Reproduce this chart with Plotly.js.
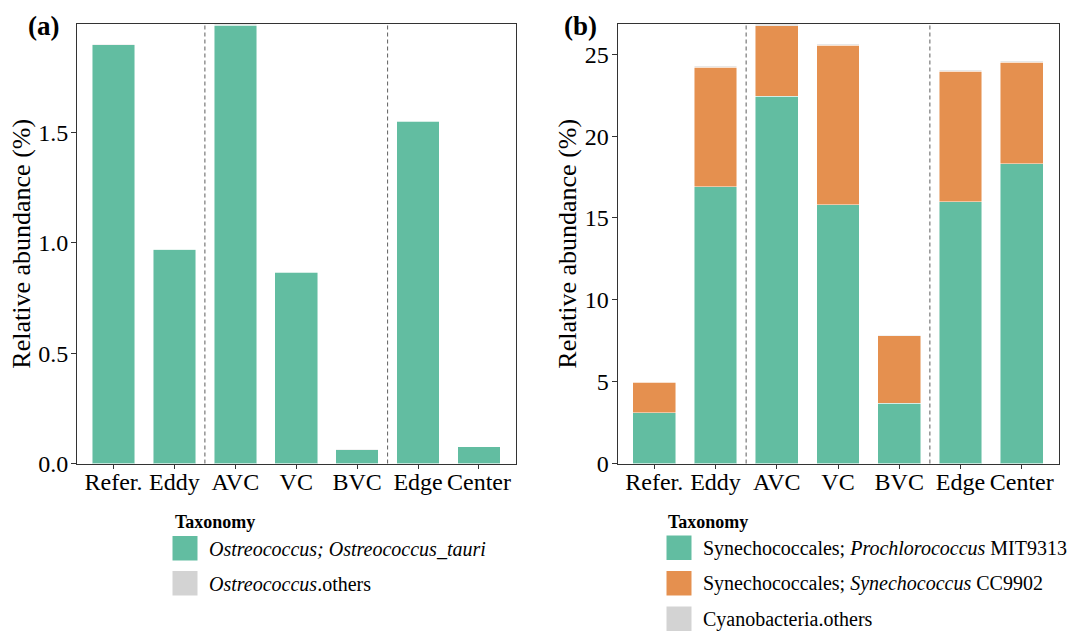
<!DOCTYPE html>
<html>
<head>
<meta charset="utf-8">
<script src="https://cdn.plot.ly/plotly-3.0.1.min.js"></script>
<style>html,body{margin:0;padding:0;background:#fff;}#chart{width:1077px;height:631px;}</style>
</head>
<body>
<div id="chart"></div>
<script>
// ---- data ----
const categories = ["Refer.", "Eddy", "AVC", "VC", "BVC", "Edge", "Center"];

// Panel (a): Ostreococcus
const ostreoTauri  = [1.899, 0.970, 1.986, 0.867, 0.063, 1.551, 0.075];
const ostreoOthers = [0.001, 0.001, 0.006, 0.001, 0.001, 0.002, 0.001];

// Panel (b): Cyanobacteria
const prochloroMIT9313 = [3.10, 16.90, 22.45, 15.80, 3.67, 16.00, 18.30];
const synechoCC9902    = [1.87, 7.30, 4.30, 9.75, 4.15, 7.95, 6.20];
const cyanoOthers      = [0.03, 0.08, 0.10, 0.07, 0.03, 0.08, 0.08];

const legendA = ["<i>Ostreococcus; Ostreococcus_tauri</i>", "<i>Ostreococcus</i>.others"];
const legendB = ["Synechococcales; <i>Prochlorococcus</i> MIT9313", "Synechococcales; <i>Synechococcus</i> CC9902", "Cyanobacteria.others"];
const yTicksA = [0, 0.5, 1.0, 1.5];
const yTicksB = [0, 5, 10, 15, 20, 25];
const groupDividers = [1.5, 4.5];

// ---- style ----
const GREEN = "#62BDA1", ORANGE = "#E5904F", GREY = "#D3D3D3";
const FONT = "Liberation Serif, Times New Roman, serif";
const W = 1077, H = 631;
const px = x => x / W, py = y => 1 - y / H;

function bar(y, color, name, xa, ya) {
  return {type: "bar", x: categories, y: y, name: name, xaxis: xa, yaxis: ya,
    marker: {color: color, line: {color: "rgba(255,255,255,0.8)", width: 0.6}},
    width: 0.7, showlegend: false, hoverinfo: "x+y+name"};
}

const data = [
  bar(ostreoTauri, GREEN, "Ostreococcus; Ostreococcus_tauri", "x", "y"),
  bar(ostreoOthers, GREY, "Ostreococcus.others", "x", "y"),
  bar(prochloroMIT9313, GREEN, "Synechococcales; Prochlorococcus MIT9313", "x2", "y2"),
  bar(synechoCC9902, ORANGE, "Synechococcales; Synechococcus CC9902", "x2", "y2"),
  bar(cyanoOthers, GREY, "Cyanobacteria.others", "x2", "y2")
];

const totA = ostreoTauri.map((v, i) => v + ostreoOthers[i]);
const totB = prochloroMIT9313.map((v, i) => v + synechoCC9902[i] + cyanoOthers[i]);

function xax(domain) {
  return {domain: domain, type: "category", categoryarray: categories, range: [-0.6, 6.6],
    showline: true, mirror: true, linecolor: "#333", linewidth: 1,
    ticks: "outside", ticklen: 4, tickcolor: "#333", tickwidth: 1,
    ticklabelstandoff: -7,
    showgrid: false, zeroline: false,
    tickfont: {family: FONT, size: 24, color: "#000"}};
}
function yax(range, tickvals, fmt, anchor) {
  return {domain: [py(463.5), py(24)], range: range, tickvals: tickvals, tickformat: fmt, anchor: anchor,
    showline: true, mirror: true, linecolor: "#333", linewidth: 1,
    ticks: "outside", ticklen: 5, tickcolor: "#333", tickwidth: 1,
    ticklabelstandoff: -2,
    showgrid: false, zeroline: false,
    tickfont: {family: FONT, size: 24, color: "#000"},
    title: {text: "Relative abundance (%)", font: {family: FONT, size: 26, color: "#000"}, standoff: 0}};
}

const shapes = [];
groupDividers.forEach(d => {
  ["x", "x2"].forEach((xr, k) => {
    shapes.push({type: "line", xref: xr, yref: (k === 0 ? "y" : "y2") + " domain", x0: d, x1: d, y0: 0, y1: 1,
      line: {color: "#333", width: 0.8, dash: "4px,3px"}});
  });
});

const annotations = [
  {text: "<b>(a)</b>", xref: "paper", yref: "paper", x: px(26), y: py(26), xanchor: "left", yanchor: "middle",
   showarrow: false, font: {family: FONT, size: 27, color: "#000"}},
  {text: "<b>(b)</b>", xref: "paper", yref: "paper", x: px(562), y: py(26), xanchor: "left", yanchor: "middle",
   showarrow: false, font: {family: FONT, size: 27, color: "#000"}}
];

function legendBlock(labels, colors, x0, yTitle, yKeys, xText) {
  annotations.push({text: "<b>Taxonomy</b>", xref: "paper", yref: "paper", x: px(x0), y: py(yTitle),
    xanchor: "left", yanchor: "middle", showarrow: false, font: {family: FONT, size: 18, color: "#000"}});
  labels.forEach((lab, i) => {
    const yt = yKeys[i];
    shapes.push({type: "rect", xref: "paper", yref: "paper", x0: px(x0), x1: px(x0 + 25),
      y0: py(yt + 24.5), y1: py(yt), fillcolor: colors[i], line: {width: 0}});
    annotations.push({text: lab, xref: "paper", yref: "paper", x: px(xText), y: py(yt + 12.5),
      xanchor: "left", yanchor: "middle", showarrow: false, font: {family: FONT, size: 20, color: "#000"}});
  });
}
legendBlock(legendA, [GREEN, GREY], 172.5, 522, [536, 571], 207);
legendBlock(legendB, [GREEN, ORANGE, GREY], 666.5, 522, [535.5, 571, 606.5], 701);

const layout = {
  width: W, height: H, margin: {l: 0, r: 0, t: 0, b: 0},
  paper_bgcolor: "#fff", plot_bgcolor: "#fff",
  barmode: "stack", bargap: 0.3, showlegend: false,
  font: {family: FONT, color: "#000"},
  xaxis: xax([px(77), px(515.5)]),
  yaxis: yax([0, Math.max(...totA)], yTicksA, ".1f", "x"),
  xaxis2: xax([px(617.5), px(1058.5)]),
  yaxis2: yax([0, Math.max(...totB)], yTicksB, "d", "x2"),
  shapes: shapes, annotations: annotations
};
layout.xaxis.anchor = "y";
layout.xaxis2.anchor = "y2";

Plotly.newPlot("chart", data, layout, {displayModeBar: false, staticPlot: true});
</script>
</body>
</html>
